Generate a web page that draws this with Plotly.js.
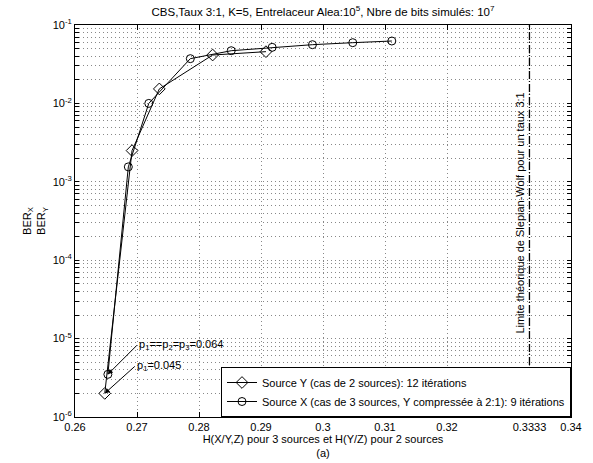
<!DOCTYPE html>
<html><head><meta charset="utf-8">
<script src="https://cdn.plot.ly/plotly-3.0.1.min.js"></script>
<style>html,body{margin:0;padding:0;background:#fff}</style>
</head><body><div id="chart" style="width:593px;height:463px"></div>
<script>
// Source Y (2 sources case), diamonds
const xSourceY = [0.2648, 0.2692, 0.2736, 0.2822, 0.2908];
const berSourceY = [2.0e-6, 2.5e-3, 1.53e-2, 4.14e-2, 4.57e-2];
// Source X (3 sources case), circles
const xSourceX = [0.2653, 0.2686, 0.2719, 0.2786, 0.2852, 0.2918, 0.2983, 0.3048, 0.3111];
const berSourceX = [3.5e-6, 1.55e-3, 1.0e-2, 3.72e-2, 4.7e-2, 5.19e-2, 5.61e-2, 5.95e-2, 6.25e-2];
const legendNames = ["Source Y (cas de 2 sources): 12 itérations",
                     "Source X (cas de 3 sources, Y compressée à 2:1): 9 itérations"];
const xTickVals = [0.26, 0.27, 0.28, 0.29, 0.30, 0.31, 0.32, 0.3333, 0.34];
const xTickText = ["0.26", "0.27", "0.28", "0.29", "0.3", "0.31", "0.32", "0.3333", "0.34"];
const decadeExps = [-6, -5, -4, -3, -2, -1];
const slepianWolfLimit = 0.3333;
const limitLabel = "Limite théorique de Slepian-Wolf pour un taux 3:1";
const noteCircle = "p<sub>1</sub>==p<sub>2</sub>=p<sub>3</sub>=0.064";
const noteDiamond = "p<sub>1</sub>=0.045";

const FONT = "Liberation Sans, Arial, Helvetica, sans-serif";
const FS = 11;

// y ticks: decades labelled, minor values unlabelled (for dotted minor grid)
const yTickVals = [], yTickText = [];
decadeExps.forEach((e, i) => {
  yTickVals.push(Math.pow(10, e));
  yTickText.push("10<sup>" + e + "</sup>");
  if (i < decadeExps.length - 1) {
    for (let m = 2; m <= 9; m++) { yTickVals.push(m * Math.pow(10, e)); yTickText.push(""); }
  }
});

const traces = [
  {x: xSourceY, y: berSourceY, name: legendNames[0], mode: "lines+markers",
   line: {color: "black", width: 1},
   marker: {symbol: "diamond-open", size: 9, color: "black", line: {width: 1, color: "black"}}},
  {x: xSourceX, y: berSourceX, name: legendNames[1], mode: "lines+markers",
   line: {color: "black", width: 1},
   marker: {symbol: "circle-open", size: 8, color: "black", line: {width: 1, color: "black"}}}
];

const gridDash = "1px,3px";
const gridColor = "#888";
const layout = {
  width: 593, height: 463,
  margin: {l: 75, r: 22, t: 25, b: 46},
  paper_bgcolor: "white", plot_bgcolor: "white",
  font: {family: FONT, size: FS, color: "black"},
  showlegend: true,
  title: {text: "CBS,Taux 3:1, K=5, Entrelaceur Alea:10<sup>5</sup>, Nbre de bits simulés: 10<sup>7</sup>",
          font: {family: FONT, size: 11.5, color: "black"},
          x: 0.5, xref: "paper", xanchor: "center", y: 1 - 12/463, yref: "container", yanchor: "middle"},
  xaxis: {
    range: [0.26, 0.34], tickvals: xTickVals, ticktext: xTickText,
    ticks: "inside", ticklen: 5, tickcolor: "black", showline: true, linecolor: "black", linewidth: 1,
    mirror: "ticks", showgrid: true, gridcolor: gridColor, griddash: gridDash, gridwidth: 1, zeroline: false,
    tickfont: {family: FONT, size: FS},
    title: {text: "H(X/Y,Z) pour 3 sources et H(Y/Z) pour 2 sources<br>(a)", font: {family: FONT, size: FS}, standoff: 2}
  },
  yaxis: {
    type: "log", range: [-6, -1], tickvals: yTickVals, ticktext: yTickText,
    ticks: "inside", ticklen: 4, tickcolor: "black", showline: true, linecolor: "black", linewidth: 1,
    mirror: "ticks", showgrid: true, gridcolor: gridColor, griddash: gridDash, gridwidth: 1, zeroline: false,
    tickfont: {family: FONT, size: FS},
    title: {text: "BER<sub>X</sub><br>BER<sub>Y</sub>", font: {family: FONT, size: FS}, standoff: 4}
  },
  legend: {x: 1, xanchor: "right", y: 0.0, yanchor: "bottom",
           bgcolor: "white", bordercolor: "black", borderwidth: 1,
           font: {family: FONT, size: FS}, itemwidth: 30, tracegroupgap: 0},
  shapes: [
    {type: "line", xref: "x", yref: "paper", x0: slepianWolfLimit, x1: slepianWolfLimit, y0: 0, y1: 1,
     line: {color: "black", width: 1.3, dash: "8px,2px,1px,2px"}}
  ],
  annotations: [
    {x: slepianWolfLimit, xref: "x", y: 0.52, yref: "paper", text: limitLabel, textangle: -90,
     showarrow: false, xshift: -9, font: {family: FONT, size: FS}},
    {x: xSourceX[0], y: Math.log10(berSourceX[0]), xref: "x", yref: "y", text: noteCircle,
     showarrow: true, arrowhead: 2, arrowsize: 1, arrowwidth: 1, arrowcolor: "black", ax: 29, ay: -29,
     xanchor: "left", yanchor: "middle", font: {family: FONT, size: FS}},
    {x: xSourceY[0], y: Math.log10(berSourceY[0]), xref: "x", yref: "y", text: noteDiamond,
     showarrow: true, arrowhead: 2, arrowsize: 1, arrowwidth: 1, arrowcolor: "black", ax: 30, ay: -27,
     xanchor: "left", yanchor: "middle", font: {family: FONT, size: FS}}
  ]
};

Plotly.newPlot("chart", traces, layout, {displayModeBar: false, staticPlot: true});
</script></body></html>
